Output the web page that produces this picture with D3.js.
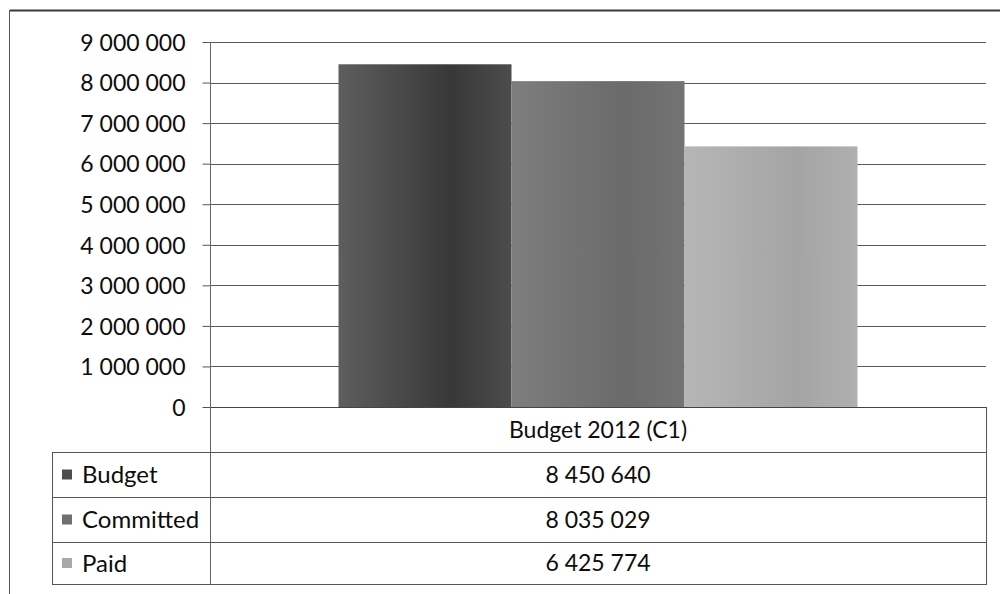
<!DOCTYPE html>
<html>
<head>
<meta charset="utf-8">
<script src="https://cdn.jsdelivr.net/npm/d3@7/dist/d3.min.js"></script>
<style>
  html, body { margin: 0; padding: 0; background: #fff; }
  svg { display: block; font-family: Lato, "Open Sans", sans-serif; }
</style>
</head>
<body>
<svg id="chart" width="1000" height="594"></svg>
<script>
// Budget execution data
const categories = ["Budget 2012 (C1)"];
const seriesNames = ["Budget", "Committed", "Paid"];
const seriesValues = [8450640, 8035029, 6425774];
const yTicks = [0, 1000000, 2000000, 3000000, 4000000, 5000000, 6000000, 7000000, 8000000, 9000000];

const fmt = v => d3.format(",")(v).replace(/,/g, " ");

const svg = d3.select("#chart");
const W = 1000, H = 594;

// Layout
const plot = { left: 210, right: 986, top: 42, bottom: 407 };
const table = { left: 52, right: 986, headTop: 407, rows: [452, 497, 542, 584] };

const colors = {
  Budget: ["#5e5e5e", "#383838", "#4c4c4c"],
  Committed: ["#7e7e7e", "#6a6a6a", "#747474"],
  Paid: ["#b6b6b6", "#a4a4a4", "#b0b0b0"]
};
const keyColors = { Budget: "#4e4e4e", Committed: "#6f6f6f", Paid: "#a9a9a9" };
const textColor = "#0d0d0d";

// Gradients for bar fills
const defs = svg.append("defs");
seriesNames.forEach(name => {
  const g = defs.append("linearGradient").attr("id", "g-" + name)
    .attr("x1", "0%").attr("x2", "100%").attr("y1", "0%").attr("y2", "0%");
  g.append("stop").attr("offset", "0%").attr("stop-color", colors[name][0]);
  g.append("stop").attr("offset", "65%").attr("stop-color", colors[name][1]);
  g.append("stop").attr("offset", "100%").attr("stop-color", colors[name][2]);
});

// Scales
const y = d3.scaleLinear().domain([0, 9000000]).range([plot.bottom, plot.top]);
const x0 = d3.scaleBand().domain(categories).range([plot.left, plot.right])
  .paddingInner(0).paddingOuter(0.2476);
const x1 = d3.scaleBand().domain(seriesNames).range([0, x0.bandwidth()]).padding(0);

// Outer chart frame
svg.append("line").attr("x1", 10).attr("x2", W).attr("y1", 10.5).attr("y2", 10.5)
  .attr("stroke", "#3a3a3a").attr("stroke-width", 2);
svg.append("line").attr("x1", 9.5).attr("x2", 9.5).attr("y1", 10).attr("y2", H)
  .attr("stroke", "#555").attr("stroke-width", 1);

// Gridlines
svg.append("g").selectAll("line").data(yTicks).join("line")
  .attr("x1", plot.left).attr("x2", plot.right)
  .attr("y1", d => Math.round(y(d)) + 0.5).attr("y2", d => Math.round(y(d)) + 0.5)
  .attr("stroke", d => d === 0 ? "#444" : "#5a5a5a").attr("stroke-width", 1);

// Y axis
const yAxis = d3.axisLeft(y).tickValues(yTicks).tickFormat(fmt).tickSize(8).tickPadding(17);
const ya = svg.append("g").attr("transform", `translate(${plot.left + 0.5},0)`).call(yAxis);
ya.select(".domain").remove();
ya.selectAll(".tick line").attr("stroke", "#555");
ya.selectAll(".tick text").attr("font-size", 23).attr("fill", textColor)
  .attr("font-family", "Lato, sans-serif").attr("dy", "0.36em");

// Bars
svg.append("g").selectAll("rect")
  .data(seriesNames.map((n, i) => ({ name: n, value: seriesValues[i], cat: categories[0] })))
  .join("rect")
  .attr("x", d => x0(d.cat) + x1(d.name))
  .attr("width", x1.bandwidth())
  .attr("y", d => y(d.value))
  .attr("height", d => y(0) - y(d.value))
  .attr("fill", d => `url(#g-${d.name})`);

// Data table
const tg = svg.append("g");
const lineColor = "#555";
// vertical axis line through the table
tg.append("line").attr("x1", plot.left + 0.5).attr("x2", plot.left + 0.5)
  .attr("y1", plot.top).attr("y2", table.rows[3])
  .attr("stroke", "#666");
// right border
tg.append("line").attr("x1", table.right + 0.5).attr("x2", table.right + 0.5)
  .attr("y1", table.headTop).attr("y2", table.rows[3]).attr("stroke", lineColor);
// left border of legend cells
tg.append("line").attr("x1", table.left + 0.5).attr("x2", table.left + 0.5)
  .attr("y1", table.rows[0]).attr("y2", table.rows[3]).attr("stroke", lineColor);
// horizontal rules
tg.selectAll("line.h").data(table.rows).join("line").attr("class", "h")
  .attr("x1", table.left).attr("x2", table.right + 1)
  .attr("y1", d => d + 0.5).attr("y2", d => d + 0.5)
  .attr("stroke", lineColor);

// header
const colCenter = x0(categories[0]) + x0.bandwidth() / 2;
tg.append("text").attr("x", colCenter).attr("y", (table.headTop + table.rows[0]) / 2)
  .attr("text-anchor", "middle").attr("dy", "0.36em")
  .attr("font-size", 23).attr("fill", textColor).text(categories[0]);

// rows
seriesNames.forEach((name, i) => {
  const cy = (table.rows[i] + table.rows[i + 1]) / 2;
  tg.append("rect").attr("x", 62).attr("y", cy - 5).attr("width", 10).attr("height", 10)
    .attr("fill", keyColors[name]);
  tg.append("text").attr("x", 82).attr("y", cy).attr("dy", "0.36em")
    .attr("font-size", 24).attr("fill", textColor).text(name);
  tg.append("text").attr("x", colCenter).attr("y", cy).attr("dy", "0.36em")
    .attr("text-anchor", "middle")
    .attr("font-size", 23).attr("fill", textColor).text(fmt(seriesValues[i]));
});
</script>
</body>
</html>
